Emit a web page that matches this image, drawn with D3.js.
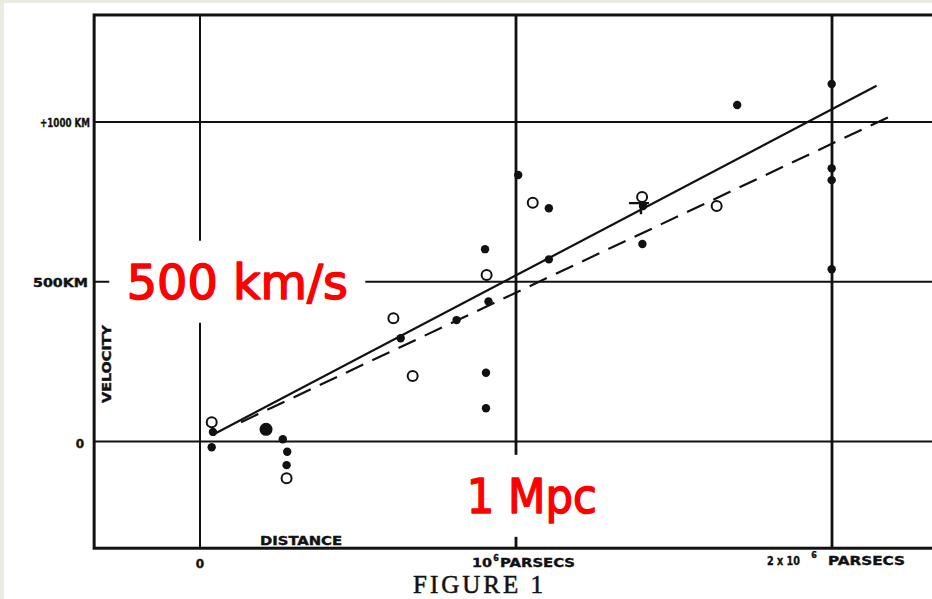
<!DOCTYPE html>
<html>
<head>
<meta charset="utf-8">
<script src="https://cdn.jsdelivr.net/npm/d3@7"></script>
<style>
  html, body { margin: 0; padding: 0; background: #ecebe1; overflow: hidden; }
  svg { display: block; }
</style>
</head>
<body>
<div class="canvas"></div>
<script>
// Hubble (1929) velocity-distance relation, annotated

// axes (distance in 10^6 parsecs, velocity in km/s)
const distanceTicks = [0, 1, 2]
const velocityTicks = [0, 500, 1000]
const frameDist = [-0.335, 2.45] // plotted range, runs off the right edge
const frameVel = [-334, 1335]

// individual nebulae (filled dots)
const nebulaDist = [0.037, 0.041, 0.262, 0.276, 0.274, 0.635, 0.812, 0.902, 0.913, 0.905, 0.905, 1.007, 1.104, 1.104, 1.400, 1.402, 1.700, 1.999, 1.999, 1.999, 1.999]
const nebulaVel  = [-18, 30, 7, -32, -74, 323, 380, 602, 438, 215, 104, 834, 730, 570, 618, 737, 1053, 1119, 855, 818, 539]

// the one heavier dot near the origin
const bigDist = [0.209]
const bigVel  = [38]

// groups of nebulae (open circles)
const groupDist = [0.037, 0.274, 0.612, 0.673, 0.907, 1.053, 1.399, 1.635]
const groupVel  = [60, -115, 386, 205, 521, 747, 765, 737]

// the cross mark
const crossDist = [1.386]
const crossVel  = [746]

// fitted lines: slope (km/s per 10^6 pc) and drawn extent
const solidFit  = { k: 520, from: 0.042, to: 2.141 }
const dashedFit = { k: 466, from: 0.13, to: 2.205 }

// red annotations
const notes = [
  { text: '500 km/s', dist: 0.118, vel: 500, len: 221, boxW: 256, boxH: 82 },
  { text: '1 Mpc', dist: 1.05, vel: -170, len: 130, boxW: 170, boxH: 82 }
]

const W = 932, H = 599

const svg = d3.select('.canvas')
  .append('svg')
  .attr('width', W)
  .attr('height', H)

// paper
svg.append('rect')
  .attr('x', 4).attr('y', 3)
  .attr('width', W).attr('height', H)
  .attr('fill', '#fff')

const x = d3.scaleLinear().domain([0, 2]).range([200, 832])
const y = d3.scaleLinear().domain([0, 1000]).range([441.5, 122])

const ink = '#111'
const graph = svg.append('g')

// gridlines
graph.selectAll('line.h')
  .data(velocityTicks)
  .enter().append('line')
    .attr('class', 'h')
    .attr('x1', x(frameDist[0])).attr('x2', x(frameDist[1]))
    .attr('y1', d => y(d)).attr('y2', d => y(d))
    .attr('stroke', ink).attr('stroke-width', 1.8)

graph.selectAll('line.v')
  .data(distanceTicks)
  .enter().append('line')
    .attr('class', 'v')
    .attr('x1', d => x(d)).attr('x2', d => x(d))
    .attr('y1', y(frameVel[1])).attr('y2', y(frameVel[0]))
    .attr('stroke', ink).attr('stroke-width', (d, i) => i === 0 ? 2 : 2.8)

// frame
graph.append('rect')
  .attr('x', x(frameDist[0])).attr('y', y(frameVel[1]))
  .attr('width', x(frameDist[1]) - x(frameDist[0]))
  .attr('height', y(frameVel[0]) - y(frameVel[1]))
  .attr('fill', 'none')
  .attr('stroke', ink).attr('stroke-width', 3)

// fit lines
const fitLine = f => d3.line()
  .x(d => x(d))
  .y(d => y(f.k * d))([f.from, f.to])

graph.append('path')
  .attr('d', fitLine(solidFit))
  .attr('fill', 'none').attr('stroke', ink).attr('stroke-width', 2.2)

graph.append('path')
  .attr('d', fitLine(dashedFit))
  .attr('fill', 'none').attr('stroke', ink).attr('stroke-width', 2.2)
  .attr('stroke-dasharray', '19,10')

// points
const pairs = (ds, vs) => ds.map((d, i) => ({ d, v: vs[i] }))

graph.selectAll('circle.neb')
  .data(pairs(nebulaDist, nebulaVel))
  .enter().append('circle')
    .attr('class', 'neb')
    .attr('cx', p => x(p.d)).attr('cy', p => y(p.v))
    .attr('r', 4.2)
    .attr('fill', ink)

graph.selectAll('circle.big')
  .data(pairs(bigDist, bigVel))
  .enter().append('circle')
    .attr('class', 'big')
    .attr('cx', p => x(p.d)).attr('cy', p => y(p.v))
    .attr('r', 6.5)
    .attr('fill', ink)

graph.selectAll('path.cross')
  .data(pairs(crossDist, crossVel))
  .enter().append('path')
    .attr('class', 'cross')
    .attr('d', p => `M${x(p.d) - 9},${y(p.v)}h20M${x(p.d) + 3},${y(p.v) - 9}v20`)
    .attr('stroke', ink).attr('stroke-width', 2.4)

graph.selectAll('circle.grp')
  .data(pairs(groupDist, groupVel))
  .enter().append('circle')
    .attr('class', 'grp')
    .attr('cx', p => x(p.d)).attr('cy', p => y(p.v))
    .attr('r', 5)
    .attr('fill', '#fff')
    .attr('stroke', ink).attr('stroke-width', 2)

// tick labels, in a heavy condensed face
const label = (txt, px, py, len, size, anchor = 'start') => {
  const t = svg.append('text')
    .attr('x', px).attr('y', py)
    .attr('font-family', 'DejaVu Sans, sans-serif')
    .attr('font-weight', 'bold')
    .attr('font-size', size)
    .attr('text-anchor', anchor)
    .attr('fill', ink)
    .attr('stroke', ink).attr('stroke-width', 0.4)
    .text(txt)
  if (len) t.attr('textLength', len).attr('lengthAdjust', 'spacingAndGlyphs')
  return t
}

label('+1000 KM', 40, y(1000) + 5, 50, 12)
label('500KM', 33, y(500) + 5, 55, 12)
label('0', 80, y(0) + 6, null, 12, 'middle')
label('0', x(0), 568, null, 12, 'middle')
label('DISTANCE', 260, 545, 82, 12)
label('10', 472, 567, 20, 12)
label('6', 496, 561, null, 8, 'middle')
label('PARSECS', 500, 567, 75, 12)
label('2 x 10', 767, 565, 33, 12)
label('6', 814, 558, null, 8, 'middle')
label('PARSECS', 828, 565, 77, 12)

svg.append('text')
  .attr('transform', `translate(111, 364) rotate(-90)`)
  .attr('text-anchor', 'middle')
  .attr('font-family', 'DejaVu Sans, sans-serif')
  .attr('font-weight', 'bold')
  .attr('font-size', 12)
  .attr('textLength', 78).attr('lengthAdjust', 'spacingAndGlyphs')
  .attr('fill', ink)
  .attr('stroke', ink).attr('stroke-width', 0.4)
  .text('VELOCITY')

svg.append('text')
  .attr('x', 478).attr('y', 593)
  .attr('text-anchor', 'middle')
  .attr('font-family', 'Liberation Serif, serif')
  .attr('font-size', 25)
  .attr('textLength', 130).attr('lengthAdjust', 'spacing')
  .attr('fill', ink)
  .attr('stroke', ink).attr('stroke-width', 0.5)
  .text('FIGURE 1')

// red annotations on white patches
const noteG = svg.selectAll('g.note')
  .data(notes)
  .enter().append('g')
    .attr('class', 'note')
    .attr('transform', n => `translate(${x(n.dist)}, ${y(n.vel)})`)

noteG.append('rect')
  .attr('x', n => -n.boxW / 2).attr('y', n => -n.boxH / 2)
  .attr('width', n => n.boxW).attr('height', n => n.boxH)
  .attr('fill', '#fff')

noteG.append('text')
  .attr('y', 17)
  .attr('text-anchor', 'middle')
  .attr('font-family', 'DejaVu Sans, sans-serif')
  .attr('font-size', 48)
  .attr('textLength', n => n.len).attr('lengthAdjust', 'spacingAndGlyphs')
  .attr('fill', '#ff0000')
  .attr('stroke', '#ff0000').attr('stroke-width', 1.6)
  .attr('stroke-linejoin', 'round')
  .text(n => n.text)
</script>
</body>
</html>
